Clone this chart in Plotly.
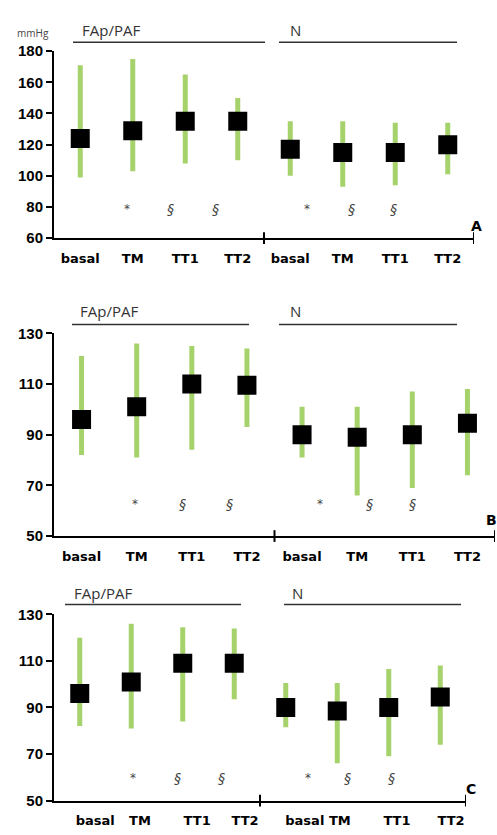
import plotly.graph_objects as go

W, H = 497, 835

# ---------------- data ----------------
labels = ["basal", "TM", "TT1", "TT2", "basal", "TM", "TT1", "TT2"]
groups = ["FAp/PAF", "N"]

A_mean = [124, 129, 135, 135, 117, 115, 115, 120]
A_low = [99, 103, 108, 110, 100, 93, 94, 101]
A_high = [171, 175, 165, 150, 135, 135, 134, 134]

B_mean = [96, 101, 110, 109.5, 90, 89, 90, 94.5]
B_low = [82, 81, 84, 93, 81, 66, 69, 74]
B_high = [121, 126, 125, 124, 101, 101, 107, 108]

C_mean = [96, 101, 109, 109, 90, 88.5, 90, 94.5]
C_low = [82, 81, 84, 93.5, 81.5, 66, 69, 74]
C_high = [120, 126, 124.5, 124, 100.5, 100.5, 106.5, 108]

sig_marks = ["*", "§", "§", "*", "§", "§"]
A_sig_x = [0.89, 1.71, 2.57, 4.32, 5.16, 5.96]
B_sig_x = [0.97, 1.84, 2.68, 4.33, 5.23, 6.0]
C_sig_x = [1.03, 1.89, 2.76, 4.43, 5.19, 6.06]

A_ticks = [60, 80, 100, 120, 140, 160, 180]
BC_ticks = [50, 70, 90, 110, 130]

C_label_x = [0.30, 1.17, 2.28, 3.21, 4.37, 5.05, 6.16, 7.21]

GREEN = "#a6d26c"
xs = list(range(len(labels)))


def px(x):
    return x / W


def py(y):
    return 1 - y / H


panels = [
    dict(mean=A_mean, low=A_low, high=A_high, yr=[60, 180], ticks=A_ticks,
         xd=(54, 474), yd=(234, 43), sig_x=A_sig_x, sig_y=79, letter="A",
         letter_pos=(476, 221), head_y=21, line_y=34,
         fap_line=(73, 265), n_line=(279, 457), fap_txt=80, n_txt=288,
         lab_x=xs, mmhg=True),
    dict(mean=B_mean, low=B_low, high=B_high, yr=[50, 130], ticks=BC_ticks,
         xd=(54, 495), yd=(538, 331), sig_x=B_sig_x, sig_y=62.5, letter="B",
         letter_pos=(491, 522), head_y=308, line_y=322,
         fap_line=(72, 249), n_line=(279, 457), fap_txt=78, n_txt=288,
         lab_x=xs, mmhg=False),
    dict(mean=C_mean, low=C_low, high=C_high, yr=[50, 130], ticks=BC_ticks,
         xd=(54, 466), yd=(808, 618), sig_x=C_sig_x, sig_y=59.5, letter="C",
         letter_pos=(471, 796), head_y=596, line_y=608,
         fap_line=(65, 241), n_line=(284, 461), fap_txt=72, n_txt=290,
         lab_x=C_label_x, mmhg=False),
]

fig = go.Figure()
annotations = []
shapes = []

for k, p in enumerate(panels):
    xa = "x" if k == 0 else f"x{k+1}"
    ya = "y" if k == 0 else f"y{k+1}"
    xkey = "xaxis" if k == 0 else f"xaxis{k+1}"
    ykey = "yaxis" if k == 0 else f"yaxis{k+1}"

    plus = [h - m for h, m in zip(p["high"], p["mean"])]
    minus = [m - l for m, l in zip(p["mean"], p["low"])]

    fig.add_trace(go.Scatter(
        x=xs, y=p["mean"], mode="markers", xaxis=xa, yaxis=ya,
        marker=dict(size=1, color="rgba(0,0,0,0)"),
        error_y=dict(type="data", symmetric=False, array=plus, arrayminus=minus,
                     color=GREEN, thickness=5, width=0),
        showlegend=False, hoverinfo="skip"))
    fig.add_trace(go.Scatter(
        x=xs, y=p["mean"], mode="markers", xaxis=xa, yaxis=ya,
        marker=dict(symbol="square", size=19, color="black", line=dict(width=0)),
        showlegend=False))

    x0, x1 = p["xd"]
    yb, yt = p["yd"]
    fig.update_layout(**{
        xkey: dict(domain=[px(x0), min(1, px(x1))], range=[-0.5, len(labels) - 0.5],
                   anchor=ya, showgrid=False, zeroline=False,
                   showline=True, linecolor="black", linewidth=2,
                   ticks="", tickmode="array", tickvals=p["lab_x"], ticktext=labels,
                   ticklabelstandoff=7,
                   tickfont=dict(family="DejaVu Sans", size=13, color="black", weight="bold"),
                   fixedrange=True),
        ykey: dict(domain=[py(yb), py(yt)], range=p["yr"], anchor=xa,
                   showgrid=False, zeroline=False, showline=True,
                   linecolor="black", linewidth=2, ticks="outside", ticklen=6,
                   tickwidth=2, tickcolor="black",
                   tickvals=p["ticks"],
                   tickfont=dict(family="Liberation Sans", size=15, color="black", weight="bold"),
                   fixedrange=True),
    })

    # mid and end ticks on x-axis
    for xv in [(len(labels) - 1) / 2, len(labels) - 0.5]:
        shapes.append(dict(type="line", xref=xa, yref="paper",
                           x0=xv, x1=xv, y0=py(yb + 6), y1=py(yb - 6),
                           line=dict(color="black", width=2)))

    # group header lines and texts
    for (l0, l1), tx, g in [(p["fap_line"], p["fap_txt"], groups[0]),
                            (p["n_line"], p["n_txt"], groups[1])]:
        shapes.append(dict(type="line", xref="paper", yref="paper",
                           x0=px(l0), x1=px(l1), y0=py(p["line_y"]), y1=py(p["line_y"]),
                           line=dict(color="#333333", width=1.5)))
        annotations.append(dict(text=g, xref="paper", yref="paper",
                                x=px(tx), y=py(p["head_y"]), xanchor="left",
                                yanchor="middle", showarrow=False,
                                font=dict(family="Open Sans", size=15, color="#333333")))

    # significance marks
    for sx, sm in zip(p["sig_x"], sig_marks):
        annotations.append(dict(text=sm, xref=xa, yref=ya, x=sx, y=p["sig_y"],
                                xanchor="center", yanchor="middle",
                                showarrow=False,
                                font=dict(family="DejaVu Sans",
                                          size=12 if sm == "*" else 14, color="#444444",
                                          style="normal" if sm == "*" else "italic")))

    # panel letter
    lx, ly = p["letter_pos"]
    annotations.append(dict(text=p["letter"], xref="paper", yref="paper",
                            x=px(lx), y=py(ly), xanchor="center", yanchor="middle",
                            showarrow=False,
                            font=dict(family="DejaVu Sans", size=14, color="black", weight="bold")))

    if p["mmhg"]:
        annotations.append(dict(text="mmHg", xref="paper", yref="paper",
                                x=px(33), y=py(25), xanchor="center", yanchor="middle",
                                showarrow=False,
                                font=dict(family="Open Sans", size=10, color="#444444")))

fig.update_layout(width=W, height=H, margin=dict(l=0, r=0, t=0, b=0),
                  paper_bgcolor="white", plot_bgcolor="white",
                  shapes=shapes, annotations=annotations, showlegend=False)

fig.write_html("out.html")
